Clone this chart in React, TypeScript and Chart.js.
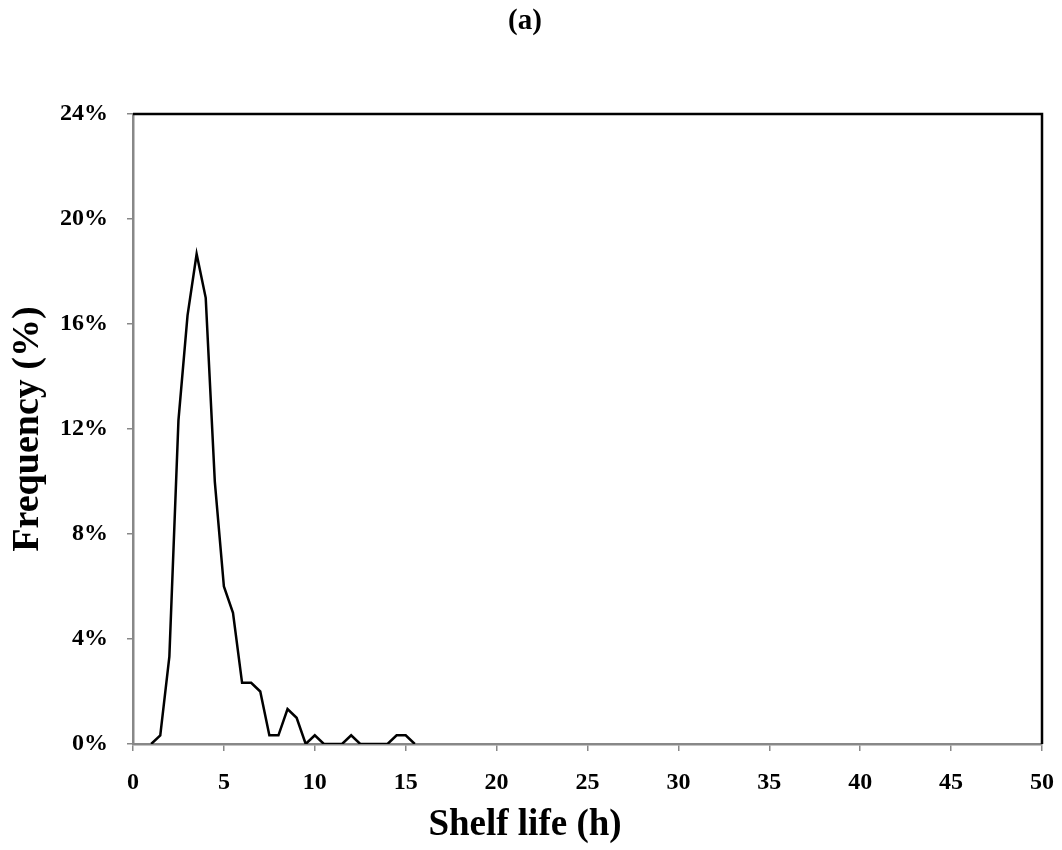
import React, { useEffect, useRef } from "react";
import { Chart, registerables } from "chart.js";

Chart.register(...registerables);

const shelfLife: number[] = [1, 1.5, 2, 2.5, 3, 3.5, 4, 4.5, 5, 5.5, 6, 6.5, 7, 7.5, 8, 8.5, 9, 9.5, 10, 10.5, 11, 11.5, 12, 12.5, 13, 13.5, 14, 14.5, 15, 15.5];
const frequency: number[] = [0, 0.33, 3.33, 12.33, 16.33, 18.67, 17, 10, 6, 5, 2.33, 2.33, 2, 0.33, 0.33, 1.33, 1, 0, 0.33, 0, 0, 0, 0.33, 0, 0, 0, 0, 0.33, 0.33, 0];
const xTicks: number[] = [0, 5, 10, 15, 20, 25, 30, 35, 40, 45, 50];
const yTicks: number[] = [0, 4, 8, 12, 16, 20, 24];

const FONT = "'Liberation Serif', 'Times New Roman', serif";

const frame = {
  id: "frame",
  afterDraw(chart: any) {
    const { ctx, chartArea } = chart;
    ctx.save();
    ctx.strokeStyle = "#000";
    ctx.lineWidth = 2.5;
    ctx.beginPath();
    ctx.moveTo(chartArea.left, chartArea.top);
    ctx.lineTo(chartArea.right, chartArea.top);
    ctx.lineTo(chartArea.right, chartArea.bottom);
    ctx.stroke();
    ctx.restore();
  },
};

export default function App() {
  const ref = useRef<HTMLCanvasElement>(null);
  useEffect(() => {
    if (!ref.current) return;
    const chart = new Chart(ref.current, {
      type: "line",
      data: {
        datasets: [
          {
            data: shelfLife.map((x, i) => ({ x, y: frequency[i] })),
            borderColor: "#000",
            borderWidth: 2.5,
            pointRadius: 0,
            tension: 0,
            fill: false,
          },
        ],
      },
      options: {
        animation: false,
        responsive: true,
        maintainAspectRatio: false,
        layout: { padding: { left: 0, right: 12, top: 0, bottom: 0 } },
        plugins: {
          legend: { display: false },
          tooltip: { enabled: false },
          title: {
            display: true,
            text: "(a)",
            color: "#000",
            font: { family: FONT, size: 29, weight: "bold", lineHeight: 0.9 },
            padding: { top: 0, bottom: 80 },
          },
          subtitle: {
            display: true,
            position: "bottom",
            text: "Shelf life (h)",
            color: "#000",
            font: { family: FONT, size: 37, weight: "bold", lineHeight: 1 },
            padding: { top: 0, bottom: 6 },
          },
        },
        scales: {
          x: {
            type: "linear",
            min: 0,
            max: 50,
            afterBuildTicks: (s: any) => {
              s.ticks = xTicks.map((v) => ({ value: v }));
            },
            afterFit: (s: any) => {
              s.height = 63;
              s.paddingLeft = 0;
              s.paddingRight = 0;
            },
            ticks: {
              color: "#000",
              font: { family: FONT, size: 24, weight: "bold" },
              padding: 17,
              maxRotation: 0,
              autoSkip: false,
            },
            grid: {
              display: true,
              drawOnChartArea: false,
              drawTicks: true,
              tickLength: 7,
              color: "#888",
              lineWidth: 1.5,
            },
            border: { display: true, color: "#888", width: 2.5 },
          },
          y: {
            type: "linear",
            min: 0,
            max: 24,
            afterBuildTicks: (s: any) => {
              s.ticks = yTicks.map((v) => ({ value: v }));
            },
            afterFit: (s: any) => {
              s.width = 125;
              s.paddingTop = 0;
              s.paddingBottom = 0;
            },
            ticks: {
              color: "#000",
              font: { family: FONT, size: 24, weight: "bold" },
              padding: 19,
              callback: (v: any) => v + "%",
            },
            grid: {
              display: true,
              drawOnChartArea: false,
              drawTicks: true,
              tickLength: 6,
              color: "#888",
              lineWidth: 1.5,
            },
            border: { display: true, color: "#888", width: 2.5 },
            title: {
              display: true,
              text: "Frequency (%)",
              color: "#000",
              font: { family: FONT, size: 38, weight: "bold", lineHeight: 1 },
              padding: { top: 1, bottom: 0 },
            },
          },
        },
      },
      plugins: [frame],
    });
    return () => chart.destroy();
  }, []);
  return (
    <div style={{ width: 1046, height: 842, position: "relative" }}>
      <canvas ref={ref} />
    </div>
  );
}
